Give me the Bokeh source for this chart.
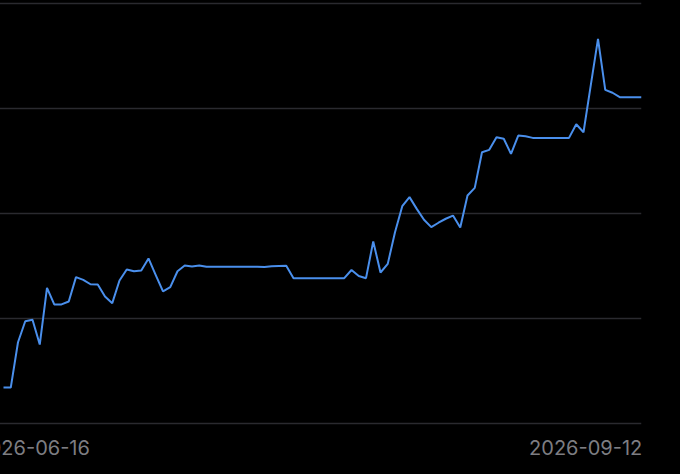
import pandas as pd
from bokeh.plotting import figure
from bokeh.models import FixedTicker, ColumnDataSource
from bokeh.embed import file_html
from bokeh.resources import INLINE

start_date = "2026-06-16"
end_date = "2026-09-12"
first_label = "2026-06-16"
last_label = "2026-09-12"

values = [
    101.71, 101.71, 103.87, 104.87, 104.94, 103.76, 106.46, 105.67, 105.67, 105.81,
    106.97, 106.84, 106.63, 106.62, 106.05, 105.73, 106.81, 107.33, 107.25, 107.29,
    107.86, 107.07, 106.29, 106.49, 107.25, 107.52, 107.48, 107.52, 107.46, 107.46,
    107.46, 107.46, 107.46, 107.46, 107.46, 107.46, 107.45, 107.49, 107.50, 107.51,
    106.92, 106.92, 106.92, 106.92, 106.92, 106.92, 106.92, 106.92, 107.31, 107.02,
    106.92, 108.67, 107.19, 107.60, 109.11, 110.35, 110.78, 110.22, 109.70, 109.35,
    109.56, 109.75, 109.90, 109.33, 110.86, 111.22, 112.92, 113.03, 113.63, 113.56,
    112.84, 113.71, 113.68, 113.60, 113.60, 113.60, 113.60, 113.60, 113.60, 114.25,
    113.87, 116.10, 118.32, 115.89, 115.75, 115.54, 115.54, 115.54, 115.54,
]
grid_values = [100, 105, 110, 115, 120]

dates = pd.date_range(start_date, end_date, freq="D")
day_ms = 86400000.0
x_first = dates[0].timestamp() * 1000.0
x_last = dates[-1].timestamp() * 1000.0
source = ColumnDataSource(data=dict(date=dates, value=values))

# The view is scrolled: the plot area starts a little left of the window edge,
# so the first date label is partly out of view.
hidden_px = 40
px_per_day = 638.0 / 88.0
lead_days = (hidden_px + 3) / px_per_day

first_label_pos = x_first + 4.1 * day_ms
last_label_pos = x_last - 7.7 * day_ms

pad = 2.0 / 21.0  # keep the outer grid lines inside the frame
p = figure(
    width=680 + hidden_px, height=474,
    x_axis_type="datetime",
    x_range=(x_first - lead_days * day_ms, x_last),
    y_range=(grid_values[0] - pad, grid_values[-1] + pad),
    output_backend="svg", toolbar_location=None,
    min_border_left=0, min_border_right=39, min_border_top=1, min_border_bottom=49,
    background_fill_color="black", border_fill_color="black",
    outline_line_color=None,
)
p.styles = {"background-color": "black", "margin-left": f"-{hidden_px}px"}
p.yaxis.visible = False
p.xgrid.visible = False
p.ygrid.ticker = FixedTicker(ticks=grid_values)
p.ygrid.grid_line_color = "#2a2a2f"
p.ygrid.grid_line_width = 1.5

ax = p.xaxis[0]
ax.ticker = FixedTicker(ticks=[first_label_pos, last_label_pos])
ax.major_label_overrides = {first_label_pos: first_label, last_label_pos: last_label}
ax.axis_line_color = None
ax.major_tick_line_color = None
ax.minor_tick_line_color = None
ax.major_label_text_font = "Inter"
ax.major_label_text_font_size = "20px"
ax.major_label_text_color = "#7d7d82"
ax.major_label_standoff = 8

p.line("date", "value", source=source, line_color="#4a8fec", line_width=2)

open("out.html", "w").write(file_html(p, INLINE))
